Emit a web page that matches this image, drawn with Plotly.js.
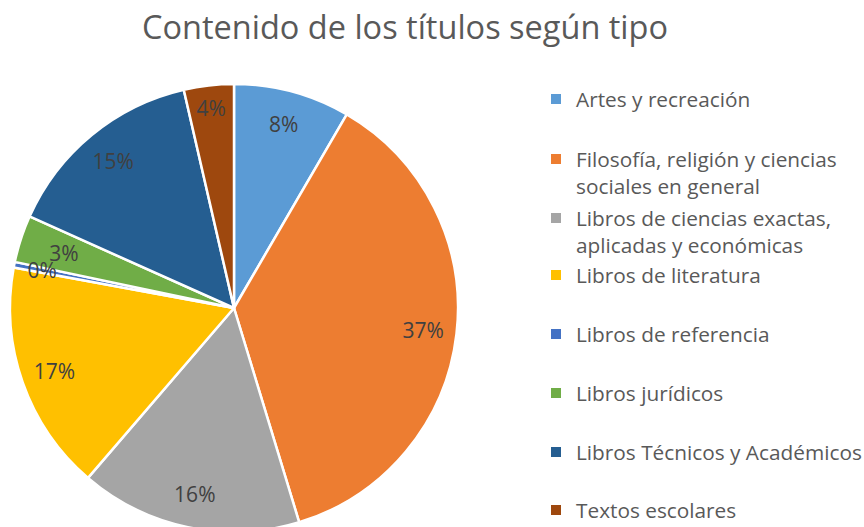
<!DOCTYPE html>
<html>
<head>
<meta charset="utf-8">
<script src="https://cdn.plot.ly/plotly-3.0.1.min.js"></script>
<style>
html,body{margin:0;padding:0;overflow:hidden;background:#fff;}
#chart{width:864px;height:540px;}
</style>
</head>
<body>
<div id="chart"></div>
<script>
// Data
const categories = [
  "Artes y recreación",
  "Filosofía, religión y ciencias sociales en general",
  "Libros de ciencias exactas, aplicadas y económicas",
  "Libros de literatura",
  "Libros de referencia",
  "Libros jurídicos",
  "Libros Técnicos y Académicos",
  "Textos escolares"
];
const legendLabels = [
  "Artes y recreación",
  "Filosofía, religión y ciencias<br>sociales en general",
  "Libros de ciencias exactas,<br>aplicadas y económicas",
  "Libros de literatura",
  "Libros de referencia",
  "Libros jurídicos",
  "Libros Técnicos y Académicos",
  "Textos escolares"
];
const shares = [8.4, 36.9, 16.0, 16.6, 0.4, 3.4, 14.7, 3.6];
const colors = ["#5B9BD5", "#ED7D31", "#A5A5A5", "#FFC000", "#4472C4", "#70AD47", "#255E91", "#9E480E"];
// slices whose labels sit on a slightly smaller label ring (too narrow to fit text)
const narrowSlices = [4, 5];

// Layout constants
const W = 864, H = 540;
const legendTextCenters = [99, 159, 218, 275, 334, 393, 452, 510];
const plotL = 10, plotT = 84, plotW = 848, plotH = 448;
const cx = 234, cy = 308, R = 224, rSmall = 198;

const pieDomain = {x: [0, 448 / plotW], y: [0, 1]};
const smallDomain = {
  x: [(cx - rSmall - plotL) / plotW, (cx + rSmall - plotL) / plotW],
  y: [(plotT + plotH - (cy + rSmall)) / plotH, (plotT + plotH - (cy - rSmall)) / plotH]
};

const labelTrace = (domain, show) => ({
  type: "pie",
  labels: categories,
  values: shares,
  sort: false,
  direction: "clockwise",
  rotation: 0,
  hole: 0.7,
  domain: domain,
  marker: {colors: categories.map(() => "rgba(0,0,0,0)"), line: {width: 0}},
  texttemplate: categories.map((c, i) => show(i) ? "%{percent:.0%}" : ""),
  textposition: "inside",
  insidetextorientation: "horizontal",
  insidetextfont: {family: "Open Sans", size: 21, color: "#404040"},
  hoverinfo: "skip",
  showlegend: false
});

const traces = [
  {
    type: "pie",
    labels: categories,
    values: shares,
    sort: false,
    direction: "clockwise",
    rotation: 0,
    domain: pieDomain,
    marker: {colors: colors, line: {color: "#ffffff", width: 2.5}},
    textinfo: "none",
    hoverinfo: "label+percent",
    showlegend: false
  },
  labelTrace(pieDomain, i => !narrowSlices.includes(i)),
  labelTrace(smallDomain, i => narrowSlices.includes(i))
];

const layout = {
  width: W,
  height: H,
  margin: {l: plotL, r: W - plotL - plotW, t: plotT, b: H - plotT - plotH, autoexpand: false},
  paper_bgcolor: "#ffffff",
  plot_bgcolor: "#ffffff",
  font: {family: "Open Sans", color: "#595959"},
  uniformtext: {mode: "show", minsize: 21},
  title: {
    text: "Contenido de los títulos según tipo",
    font: {family: "Open Sans", size: 32.5, color: "#595959"},
    x: 405 / W, xref: "container", xanchor: "center",
    y: 1 - 28 / H, yref: "container", yanchor: "middle"
  },
  xaxis: {visible: false},
  yaxis: {visible: false}
};

categories.forEach((c, i) => {
  const key = i === 0 ? "legend" : "legend" + (i + 1);
  traces.push({
    type: "scatter",
    mode: "markers",
    x: [null], y: [null],
    name: legendLabels[i],
    marker: {symbol: "square", size: 10, color: colors[i]},
    legend: key,
    showlegend: true,
    hoverinfo: "skip"
  });
  layout[key] = {
    x: 536 / W, xref: "container", xanchor: "left",
    y: 1 - (legendTextCenters[i] - 20) / H, yref: "container", yanchor: "top",
    bgcolor: "rgba(0,0,0,0)",
    borderwidth: 0,
    valign: "top",
    font: {family: "Open Sans", size: 20.8, color: "#595959"},
    itemclick: false, itemdoubleclick: false
  };
});

Plotly.newPlot("chart", traces, layout, {displayModeBar: false, staticPlot: true});
</script>
</body>
</html>
